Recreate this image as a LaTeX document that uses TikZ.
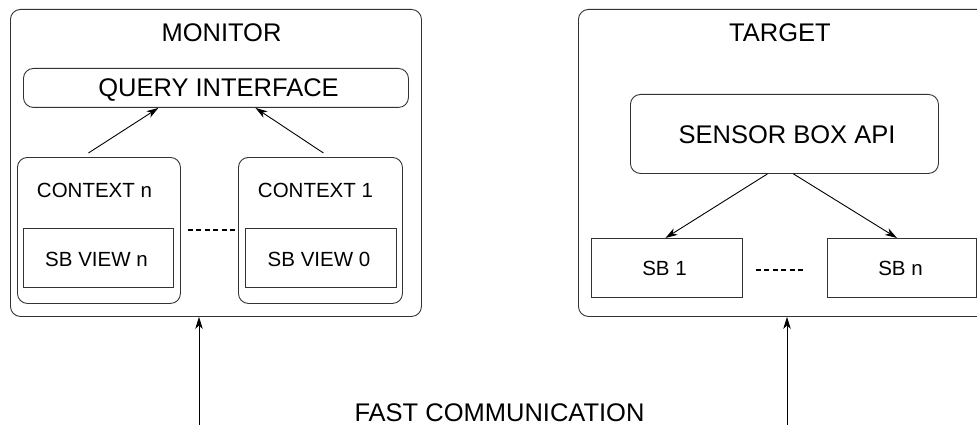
\documentclass[tikz,border=0pt]{standalone}
\usepackage{fontspec}
\setmainfont{Liberation Sans}
\usetikzlibrary{arrows.meta}
\begin{document}
\begin{tikzpicture}[x=1pt,y=1pt,
  frame/.style={draw=black!80, line width=0.9pt, inner sep=0pt, anchor=north west, rounded corners=10pt},
  plainbox/.style={draw=black!80, line width=0.9pt, inner sep=0pt, anchor=north west},
  bigtext/.style={inner sep=0pt, anchor=base, font=\fontsize{25.5}{30}\selectfont},
  smalltext/.style={inner sep=0pt, anchor=base, font=\fontsize{20.5}{24}\selectfont},
  link/.style={draw=black, line width=0.9pt, -{Stealth[length=12pt,width=7.5pt,inset=3.5pt]}},
  dotline/.style={draw=black, line width=2pt, dash pattern=on 5pt off 3.5pt}]
\useasboundingbox (0,0) rectangle (977,-425);
\clip (0,0) rectangle (977,-425);

% monitor side
\node[frame, minimum width=411pt, minimum height=307pt] (monitor) at (10,-9) {};
\node[bigtext] (tmonitor) at (221.5,-42) {MONITOR};
\node[frame, minimum width=385pt, minimum height=39pt] (query) at (23,-68) {};
\node[bigtext] (tquery) at (218.5,-96.5) {QUERY INTERFACE};
\node[frame, minimum width=163pt, minimum height=146pt] (ctxn) at (17,-157) {};
\node[smalltext] (tctxn) at (94.5,-197) {CONTEXT n};
\node[frame, minimum width=164pt, minimum height=146pt] (ctx1) at (238,-157) {};
\node[smalltext] (tctx1) at (315.5,-197) {CONTEXT 1};
\node[plainbox, minimum width=150pt, minimum height=59pt] (viewn) at (23,-228) {};
\node[smalltext] (tviewn) at (96.5,-266) {SB VIEW n};
\node[plainbox, minimum width=151pt, minimum height=59pt] (view0) at (245,-228) {};
\node[smalltext] (tview0) at (319,-266) {SB VIEW 0};

\draw[link] ([xshift=-10.5pt,yshift=4pt]ctxn.north) -- ([xshift=-57.5pt]query.south);
\draw[link] ([xshift=3pt,yshift=4pt]ctx1.north) -- ([xshift=39.5pt]query.south);
\draw[dotline] ([xshift=7pt]ctxn.east) -- (ctx1.west);

% target side
\node[frame, minimum width=411pt, minimum height=307pt] (target) at (578,-9) {};
\node[bigtext] (ttarget) at (780,-42) {TARGET};
\node[frame, minimum width=308pt, minimum height=79pt] (api) at (630,-94) {};
\node[bigtext] (tapi) at (787,-143) {SENSOR BOX API};
\node[plainbox, minimum width=151pt, minimum height=59pt] (sb1) at (591,-238) {};
\node[smalltext] (tsb1) at (664.5,-275) {SB 1};
\node[plainbox, minimum width=149pt, minimum height=59pt] (sbn) at (827,-238) {};
\node[smalltext] (tsbn) at (900.5,-275) {SB n};

\draw[link] ([xshift=-17pt]api.south) -- ([xshift=-1.5pt]sb1.north);
\draw[link] ([xshift=9pt]api.south) -- ([xshift=-5pt]sbn.north);
\draw[dotline] ([xshift=13pt,yshift=-2.5pt]sb1.east) -- ([xshift=-21pt,yshift=-2.5pt]sbn.west);

% link between the two sides
\coordinate (inmon) at (199,-425);
\coordinate (intgt) at (787,-425);
\draw[link] (inmon) -- (inmon |- monitor.south);
\draw[link] (intgt) -- (intgt |- target.south);
\node[bigtext] (fast) at (499.5,-421.5) {FAST COMMUNICATION};
\end{tikzpicture}
\end{document}
